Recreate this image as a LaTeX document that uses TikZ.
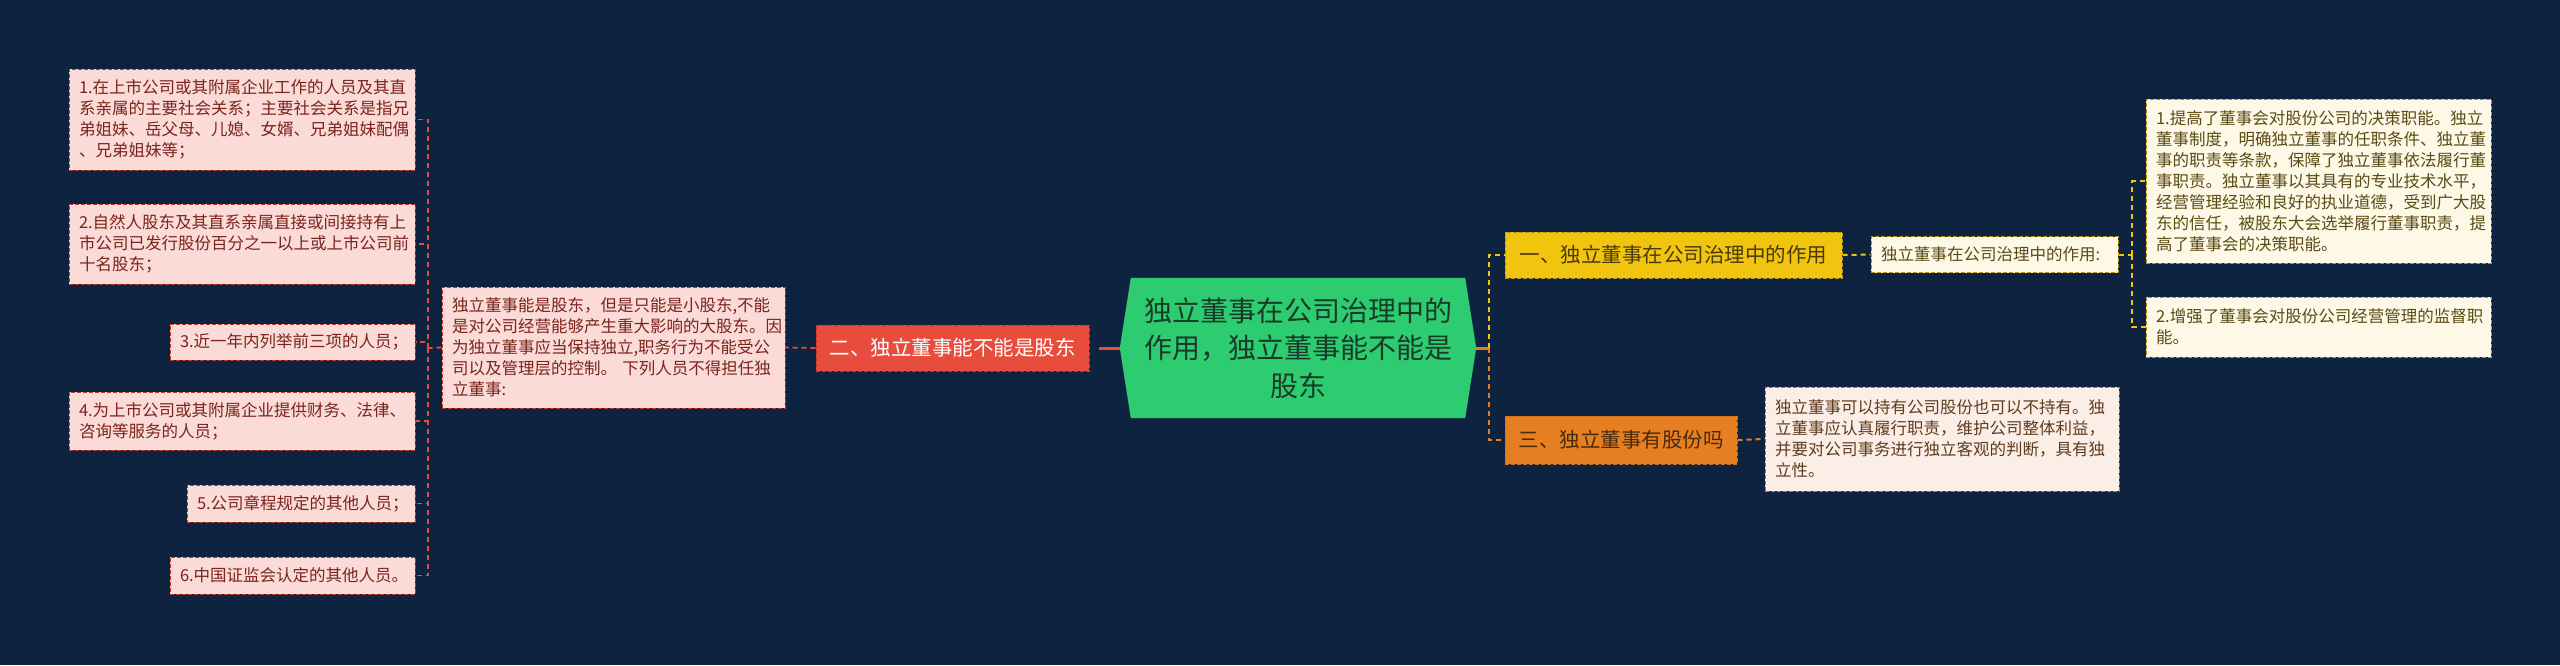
\documentclass[tikz,border=0pt]{standalone}
\usepackage{fontspec}
\setmainfont{Noto Sans CJK SC}
\usetikzlibrary{calc,backgrounds}
\definecolor{bg}{HTML}{0E2340}
\definecolor{cgreen}{HTML}{2ECC71}
\definecolor{cgreent}{HTML}{183A28}
\definecolor{cred}{HTML}{E74C3C}
\definecolor{credd}{HTML}{C0392B}
\definecolor{pinkf}{HTML}{FADBD8}
\definecolor{pinkt}{HTML}{7B241C}
\definecolor{cyel}{HTML}{F1C40F}
\definecolor{cyeld}{HTML}{B7950B}
\definecolor{cyelt}{HTML}{4A3B06}
\definecolor{lyelf}{HTML}{FEF9E7}
\definecolor{lyelt}{HTML}{5B4A14}
\definecolor{corg}{HTML}{E67E22}
\definecolor{corgd}{HTML}{CA6F1E}
\definecolor{corgt}{HTML}{4A2A0A}
\definecolor{lorgf}{HTML}{FBEEE6}
\definecolor{lorgt}{HTML}{5E3C1E}
\begin{document}
\begin{tikzpicture}[x=1pt,y=-1pt,
  boxbase/.style={draw, dash pattern=on 4pt off 2pt, line width=1pt, inner xsep=10pt, inner ysep=0pt, align=left},
  pinkbox/.style={boxbase, fill=pinkf, draw=credd, text=pinkt, font=\fontsize{16.5}{21}\selectfont},
  lyelbox/.style={boxbase, fill=lyelf, draw=cyeld, text=lyelt, font=\fontsize{16.5}{21}\selectfont},
  lorgbox/.style={boxbase, fill=lorgf, draw=corgd, text=lorgt, font=\fontsize{16.5}{21}\selectfont},
  mainbox/.style={draw, dash pattern=on 4pt off 2pt, line width=1pt, inner xsep=13pt, inner ysep=0pt, align=center, font=\fontsize{20.5}{25}\selectfont},
  conR/.style={draw=cred, line width=1.8pt, dash pattern=on 5pt off 4pt},
  conY/.style={draw=cyel, line width=2pt, dash pattern=on 5pt off 4pt},
  conO/.style={draw=corg, line width=2pt, dash pattern=on 5pt off 4pt},
]
\begin{pgfonlayer}{background}
\fill[bg] (0,0) rectangle (2560,665);
\end{pgfonlayer}
\useasboundingbox (0,0) rectangle (2560,665);

% center
\node[minimum width=356pt, minimum height=140pt, inner sep=0pt, align=center, text=cgreent,
      font=\fontsize{28}{37.5}\selectfont] (c) at (1298,348)
  {独立董事在公司治理中的\\作用，独立董事能不能是\\股东};
\begin{pgfonlayer}{background}
\fill[cgreen] (c.west) -- ([xshift=11pt]c.north west) -- ([xshift=-11pt]c.north east)
  -- (c.east) -- ([xshift=-11pt]c.south east) -- ([xshift=11pt]c.south west) -- cycle;
\end{pgfonlayer}

% main branches
\node[mainbox, fill=cred, draw=credd, text=white, minimum width=273pt, minimum height=46pt] (red) at (952.5,348) {二、独立董事能不能是股东};
\node[mainbox, fill=cyel, draw=cyeld, text=cyelt, minimum width=337pt, minimum height=46pt] (yel) at (1673.5,255) {一、独立董事在公司治理中的作用};
\node[mainbox, fill=corg, draw=corgd, text=corgt, minimum width=232pt, minimum height=48pt] (org) at (1621,440) {三、独立董事有股份吗};

% left side
\node[pinkbox, text width=323pt, minimum height=121pt] (big) at (613.5,347.5)
  {独立董事能是股东，但是只能是小股东,不能\\是对公司经营能够产生重大影响的大股东。因\\为独立董事应当保持独立,职务行为不能受公\\司以及管理层的控制。~下列人员不得担任独\\立董事:};

\node[pinkbox, text width=326pt, minimum height=101pt] (l1) at (242,119.5)
  {1.在上市公司或其附属企业工作的人员及其直\\系亲属的主要社会关系；主要社会关系是指兄\\弟姐妹、岳父母、儿媳、女婿、兄弟姐妹配偶\\、兄弟姐妹等；};
\node[pinkbox, text width=326pt, minimum height=80pt] (l2) at (242,244)
  {2.自然人股东及其直系亲属直接或间接持有上\\市公司已发行股份百分之一以上或上市公司前\\十名股东；};
\node[pinkbox, text width=225pt, minimum height=36pt] (l3) at (292.5,342)
  {3.近一年内列举前三项的人员；};
\node[pinkbox, text width=326pt, minimum height=58pt] (l4) at (242,421)
  {4.为上市公司或其附属企业提供财务、法律、\\咨询等服务的人员；};
\node[pinkbox, text width=208pt, minimum height=37pt] (l5) at (301,503.5)
  {5.公司章程规定的其他人员；};
\node[pinkbox, text width=225pt, minimum height=37pt] (l6) at (292.5,575.5)
  {6.中国证监会认定的其他人员。};

% right side
\node[lyelbox, text width=227pt, minimum height=36pt] (yc) at (1994.5,254.5)
  {独立董事在公司治理中的作用:};
\node[lyelbox, text width=325pt, minimum height=164pt] (r1) at (2318.5,181)
  {1.提高了董事会对股份公司的决策职能。独立\\董事制度，明确独立董事的任职条件、独立董\\事的职责等条款，保障了独立董事依法履行董\\事职责。独立董事以其具有的专业技术水平，\\经营管理经验和良好的执业道德，受到广大股\\东的信任，被股东大会选举履行董事职责，提\\高了董事会的决策职能。};
\node[lyelbox, text width=325pt, minimum height=60pt] (r2) at (2318.5,327)
  {2.增强了董事会对股份公司经营管理的监督职\\能。};
\node[lorgbox, text width=334pt, minimum height=104pt] (oc) at (1942,439)
  {独立董事可以持有公司股份也可以不持有。独\\立董事应认真履行职责，维护公司整体利益，\\并要对公司事务进行独立客观的判断，具有独\\立性。};

% connectors
\draw[cred, line width=3pt, shorten >=9pt] (c.west) -- (red.east);
\draw[conR] (red.west) -- (big.east);
\coordinate (lb) at (428,348);
\draw[conR] (big.west) -- (lb);
\foreach \n in {l1,l2,l3,l4,l5,l6} { \draw[conR] (lb) |- (\n.east); }

\coordinate (rb) at (1489,348);
\draw[corg, line width=3pt] (c.east) -- (rb);
\draw[conY] (rb) |- (yel.west);
\draw[conO] (rb) |- (org.west);
\draw[conY] (yel.east) -- (yc.west);
\draw[conO] (org.east) -- (oc.west);
\coordinate (rb2) at (2132,254.5);
\draw[conY] (yc.east) -- (rb2);
\draw[conY] (rb2) |- (r1.west);
\draw[conY] (rb2) |- (r2.west);
\end{tikzpicture}
\end{document}
